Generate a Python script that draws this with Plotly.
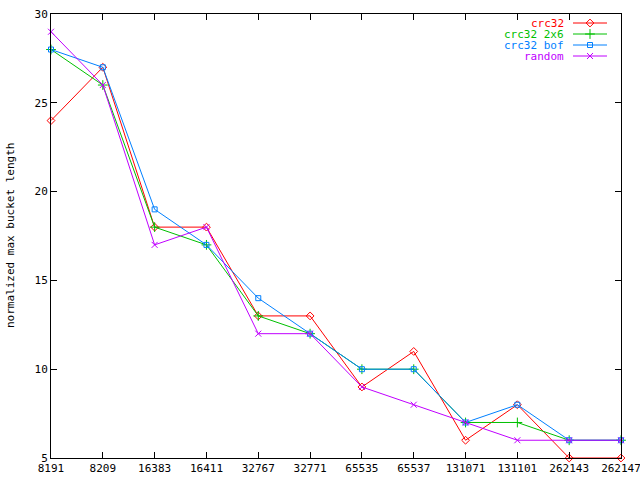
import plotly.graph_objects as go

categories = ["8191", "8209", "16383", "16411", "32767", "32771",
              "65535", "65537", "131071", "131101", "262143", "262147"]
crc32 = [24, 27, 18, 18, 13, 13, 9, 11, 6, 8, 5, 5]
crc32_2x6 = [28, 26, 18, 17, 13, 12, 10, 10, 7, 7, 6, 6]
crc32_bof = [28, 27, 19, 17, 14, 12, 10, 10, 7, 8, 6, 6]
random_ = [29, 26, 17, 18, 12, 12, 9, 8, 7, 6, 6, 6]
y_ticks = [5, 10, 15, 20, 25, 30]

series = [
    ("crc32", crc32, "#ff0000", "diamond-open", 6),
    ("crc32 2x6", crc32_2x6, "#00c000", "cross-thin-open", 7),
    ("crc32 bof", crc32_bof, "#0080ff", "square-open", 5),
    ("random", random_, "#c000ff", "x-thin-open", 6),
]

FONT = "DejaVu Sans Mono"
fig = go.Figure()
for name, vals, color, sym, size in series:
    fig.add_trace(go.Scatter(
        x=categories, y=vals, mode="lines+markers", name=name,
        line=dict(color=color, width=1),
        marker=dict(symbol=sym, size=size, color=color, line=dict(color=color, width=1)),
        cliponaxis=False, showlegend=False, xaxis="x", yaxis="y"))

# custom gnuplot-style legend (text right, sample on the right)
row_y = [23, 34, 45, 56]
for (name, vals, color, sym, size), ry in zip(series, row_y):
    fig.add_trace(go.Scatter(
        x=[573, 607], y=[ry, ry], mode="lines", line=dict(color=color, width=1),
        showlegend=False, hoverinfo="skip", xaxis="x2", yaxis="y2", cliponaxis=False))
    fig.add_trace(go.Scatter(
        x=[590], y=[ry], mode="markers",
        marker=dict(symbol=sym, size=size, color=color, line=dict(color=color, width=1)),
        showlegend=False, hoverinfo="skip", xaxis="x2", yaxis="y2", cliponaxis=False))
    fig.add_annotation(x=566, y=ry, xref="x2", yref="y2", text=name, showarrow=False,
                       xanchor="right", yanchor="middle",
                       font=dict(family=FONT, size=11, color=color))

fig.add_annotation(x=(10 - 51) / 570, y=0.5, xref="paper", yref="paper",
                   text="normalized max bucket length", textangle=-90, showarrow=False,
                   xanchor="center", yanchor="middle",
                   font=dict(family=FONT, size=11, color="black"))

fig.update_layout(
    width=640, height=480,
    margin=dict(l=51, r=19, t=14, b=22, autoexpand=False),
    paper_bgcolor="white", plot_bgcolor="white",
    font=dict(family=FONT, size=11, color="black"),
    showlegend=False,
    xaxis=dict(type="category", categoryorder="array", categoryarray=categories,
               range=[0, 11], dtick=1, showgrid=False, zeroline=False, automargin=False,
               showline=True, linecolor="black", linewidth=1, mirror="ticks",
               ticks="inside", ticklen=6, tickcolor="black", tickwidth=1,
               tickfont=dict(family=FONT, size=11)),
    yaxis=dict(range=[5, 30], tickvals=y_ticks, showgrid=False, zeroline=False, automargin=False,
               showline=True, linecolor="black", linewidth=1, mirror="ticks",
               ticks="inside", ticklen=6, tickcolor="black", tickwidth=1,
               tickfont=dict(family=FONT, size=11)),
    xaxis2=dict(overlaying="x", anchor="y2", range=[51, 621], visible=False, automargin=False),
    yaxis2=dict(overlaying="y", anchor="x2", range=[458, 14], visible=False, automargin=False),
)

fig.write_html("out.html", config={"displayModeBar": False},
               post_script="document.body.style.margin='0';")
